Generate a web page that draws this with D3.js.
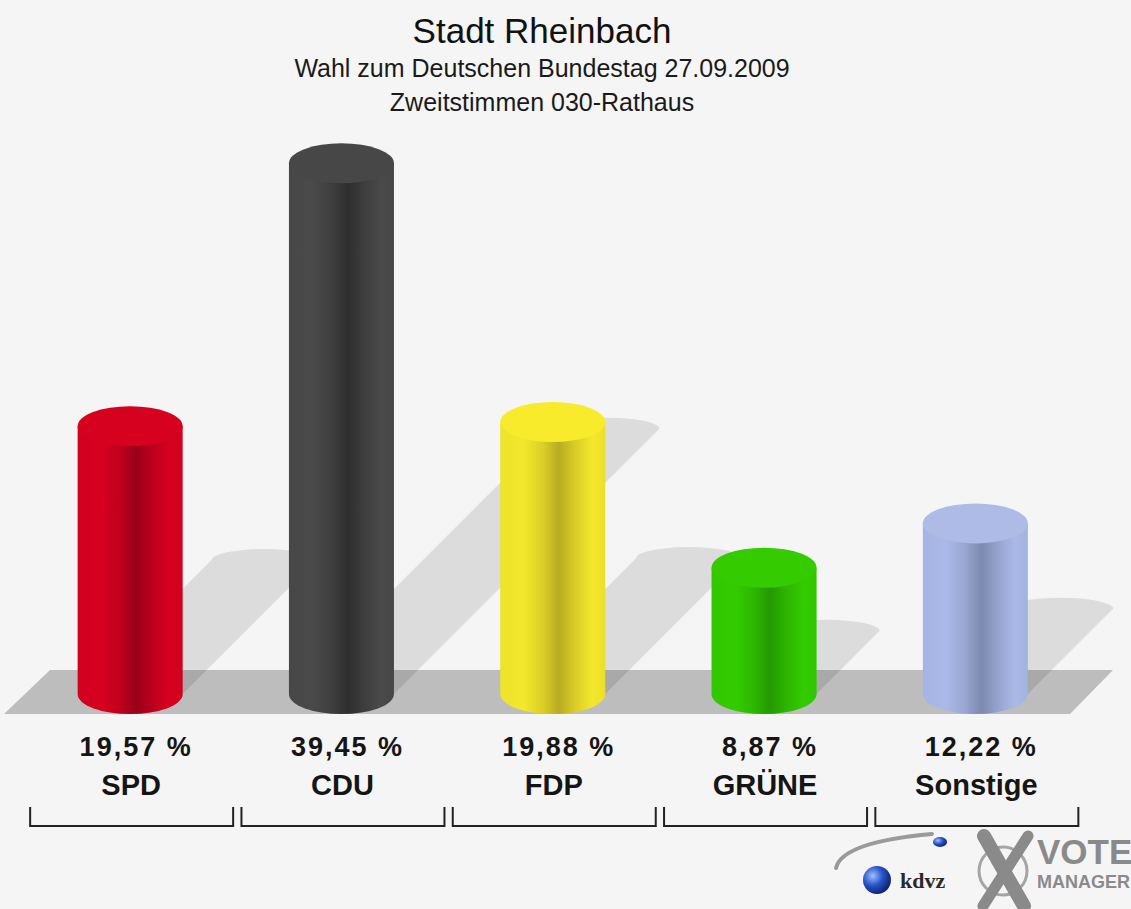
<!DOCTYPE html>
<html>
<head>
<meta charset="utf-8">
<script src="https://cdn.jsdelivr.net/npm/d3@7"></script>
<style>
  html, body { margin: 0; padding: 0; background: #f5f5f5; }
  svg { display: block; }
</style>
</head>
<body>
<script>
// ---- data ----
const titleLines = ["Stadt Rheinbach", "Wahl zum Deutschen Bundestag 27.09.2009", "Zweitstimmen 030-Rathaus"];
const parties = ["SPD", "CDU", "FDP", "GRÜNE", "Sonstige"];
const values = [19.57, 39.45, 19.88, 8.87, 12.22];
const sideColors = ["#d8001f", "#4a4a4a", "#f4e82c", "#33cc00", "#aab9e8"];
const darkColors = ["#9a001a", "#2e2e2e", "#b8ac22", "#249a00", "#7c8aaf"];
const topColors  = ["#d6001f", "#474747", "#f8eb2b", "#34cc00", "#adbbe6"];

const W = 1131, H = 909;
const svg = d3.select("body").append("svg").attr("width", W).attr("height", H);
svg.append("rect").attr("width", W).attr("height", H).attr("fill", "#f5f5f5");

// scales
const x = d3.scaleBand().domain(parties).range([24.5, 1081]).paddingInner(0.503).paddingOuter(0.2515);
const y = d3.scaleLinear().domain([0, 40]).range([685, 156]);
const baseY = 694;          // centre of the cylinder base ellipse
const rx = x.bandwidth() / 2;
const ry = 20;
const shear = 0.5;          // shadow projection factor
const fmt = d3.formatLocale({decimal: ",", thousands: ".", grouping: [3], currency: ["", " €"]}).format(".2f");

// ---- title ----
const cx = 542;
svg.append("text").attr("x", cx).attr("y", 43).attr("text-anchor", "middle")
  .attr("font-family", "Liberation Sans, Arial, sans-serif").attr("font-size", 35).attr("fill", "#111")
  .text(titleLines[0]);
svg.append("text").attr("x", cx).attr("y", 77).attr("text-anchor", "middle")
  .attr("font-family", "Liberation Sans, Arial, sans-serif").attr("font-size", 25).attr("fill", "#1a1a1a")
  .text(titleLines[1]);
svg.append("text").attr("x", cx).attr("y", 111).attr("text-anchor", "middle")
  .attr("font-family", "Liberation Sans, Arial, sans-serif").attr("font-size", 25).attr("fill", "#1a1a1a")
  .text(titleLines[2]);

// ---- floor ----
const floorTop = 670, floorBot = 714;
svg.append("path")
  .attr("d", `M${50},${floorTop} L${1113},${floorTop} L${1070},${floorBot} L${4},${floorBot} Z`)
  .attr("fill", "#bdbdbd");

// ---- gradients ----
const defs = svg.append("defs");
parties.forEach((p, i) => {
  const g = defs.append("linearGradient").attr("id", "g" + i).attr("x1", 0).attr("x2", 1).attr("y1", 0).attr("y2", 0);
  const mid = d3.interpolateRgb(sideColors[i], darkColors[i]);
  [[0, mid(0.1)], [0.22, sideColors[i]], [0.4, mid(0.4)], [0.56, darkColors[i]], [0.7, mid(0.5)], [0.88, sideColors[i]], [1, mid(0.15)]]
    .forEach(([o, c]) => g.append("stop").attr("offset", o).attr("stop-color", c));
});

// ---- shadows ----
svg.append("g").selectAll("path").data(parties).join("path")
  .attr("d", (p, i) => {
    const xl = x(p), xr = x(p) + x.bandwidth();
    const h = baseY - y(values[i]);
    const d = h * shear;
    return `M${xl},${baseY} L${xl + d},${baseY - d} A${rx},11 0 0 1 ${xr + d},${baseY - d} L${xr},${baseY} Z`;
  })
  .attr("fill", "#000").attr("fill-opacity", 0.1);

// ---- cylinders ----
const bars = svg.append("g").selectAll("g").data(parties).join("g");
bars.append("path")
  .attr("d", (p, i) => {
    const xl = x(p), xr = x(p) + x.bandwidth(), t = y(values[i]);
    return `M${xl},${t} L${xl},${baseY} A${rx},${ry} 0 0 0 ${xr},${baseY} L${xr},${t} Z`;
  })
  .attr("fill", (p, i) => `url(#g${i})`);
bars.append("ellipse")
  .attr("cx", p => x(p) + rx).attr("cy", (p, i) => y(values[i]))
  .attr("rx", rx).attr("ry", ry)
  .attr("fill", (p, i) => topColors[i]);

// ---- labels ----
const labels = svg.append("g").attr("font-family", "Liberation Sans, Arial, sans-serif").attr("font-weight", "bold").attr("fill", "#151515");
labels.selectAll("text.v").data(parties).join("text").attr("class", "v")
  .attr("x", p => x(p) + rx + 6).attr("y", 756).attr("text-anchor", "middle")
  .attr("font-size", 27).attr("letter-spacing", 2)
  .text((p, i) => fmt(values[i]) + " %");
labels.selectAll("text.n").data(parties).join("text").attr("class", "n")
  .attr("x", p => x(p) + rx + 1).attr("y", 795).attr("text-anchor", "middle")
  .attr("font-size", 29)
  .text(p => p);

// ---- brackets ----
svg.append("g").selectAll("path").data(parties).join("path")
  .attr("d", p => {
    const c = x(p) + rx + 1.5, hw = 101.5;
    return `M${c - hw},${807} L${c - hw},${826} L${c + hw},${826} L${c + hw},${807}`;
  })
  .attr("fill", "none").attr("stroke", "#222").attr("stroke-width", 2);

// ---- logo ----
const logo = svg.append("g");
const bg = defs.append("radialGradient").attr("id", "sphere").attr("cx", 0.35).attr("cy", 0.35).attr("r", 0.7);
bg.append("stop").attr("offset", 0).attr("stop-color", "#9fc0ff");
bg.append("stop").attr("offset", 0.5).attr("stop-color", "#2855c8");
bg.append("stop").attr("offset", 1).attr("stop-color", "#0b1f6a");
logo.append("path").attr("d", "M836,868 Q842,842 932,834").attr("fill", "none").attr("stroke", "#9a9a9a").attr("stroke-width", 4).attr("stroke-linecap", "round");
logo.append("circle").attr("cx", 877).attr("cy", 880).attr("r", 14).attr("fill", "url(#sphere)");
logo.append("ellipse").attr("cx", 940).attr("cy", 842).attr("rx", 7).attr("ry", 5).attr("fill", "url(#sphere)");
logo.append("text").attr("x", 900).attr("y", 888).attr("font-family", "Liberation Serif, serif").attr("font-weight", "bold")
  .attr("font-size", 22).attr("fill", "#2a2a2a").text("kdvz");
logo.append("circle").attr("cx", 1003).attr("cy", 871).attr("r", 24).attr("fill", "none").attr("stroke", "#a5a5a5").attr("stroke-width", 3);
logo.append("path").attr("d", "M984,836 L1024,906").attr("stroke", "#8a8a8a").attr("stroke-width", 14).attr("stroke-linecap", "round");
logo.append("path").attr("d", "M1028,836 L983,906").attr("stroke", "#8a8a8a").attr("stroke-width", 11).attr("stroke-linecap", "round");
logo.append("text").attr("x", 1037).attr("y", 864).attr("font-family", "Liberation Sans, Arial, sans-serif").attr("font-weight", "bold")
  .attr("font-size", 35).attr("fill", "#8a8a8a").text("VOTE");
logo.append("text").attr("x", 1037).attr("y", 888).attr("font-family", "Liberation Sans, Arial, sans-serif").attr("font-weight", "bold")
  .attr("font-size", 18).attr("fill", "#8a8a8a").text("MANAGER");
</script>
</body>
</html>
